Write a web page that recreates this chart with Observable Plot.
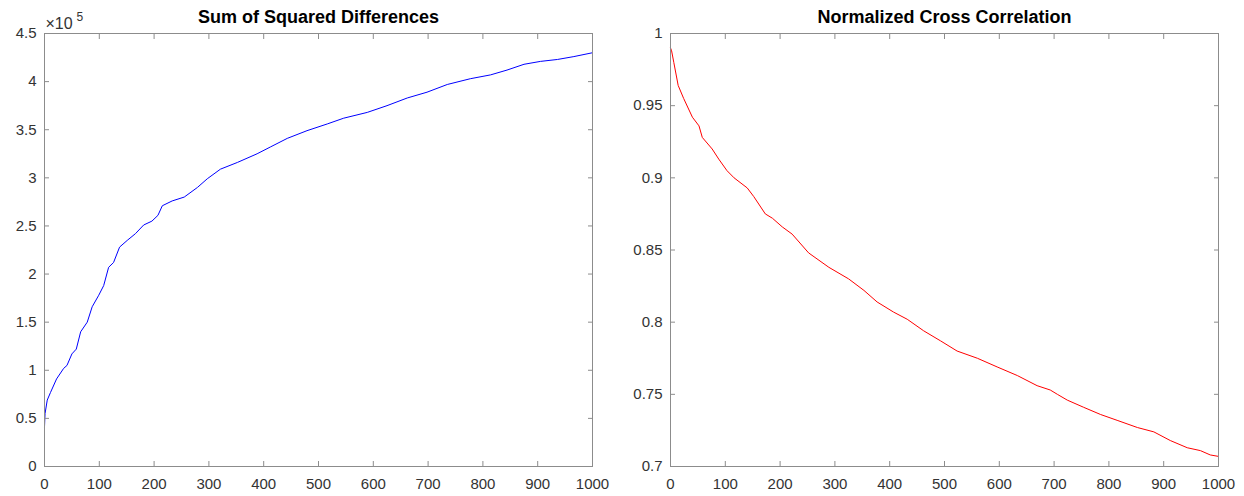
<!DOCTYPE html>
<html><head><meta charset="utf-8">
<script src="https://cdn.jsdelivr.net/npm/d3@7"></script>
<script src="https://cdn.jsdelivr.net/npm/@observablehq/plot@0.6"></script>
<style>body{margin:0;background:#fff} #wrap{display:flex;width:1244px;height:496px}</style>
</head><body><div id="wrap"></div>
<script>
const xTicks = [0,100,200,300,400,500,600,700,800,900,1000];
const sqdTicks = [0,50000,100000,150000,200000,250000,300000,350000,400000,450000];
const nccTicks = [0.7,0.75,0.8,0.85,0.9,0.95,1];

const sqdX = [0,1,5,11,22,35,41,50,58,66,78,87,99,108,117,126,137,151,166,181,196,207,215,233,255,279,297,321,352,388,412,443,479,516,546,589,625,662,698,735,777,814,844,875,905,936,966,1000];
const sqdY = [41000,55000,69000,77000,91000,102000,105000,117000,122000,140000,150000,166000,178000,188000,207000,212000,228000,235000,242000,251000,255000,261000,271000,276000,280000,290000,299000,309000,316000,325000,332000,341000,349000,356000,362000,368000,375000,383000,389000,397000,403000,407000,412000,418000,421000,423000,426000,430000];

const nccX = [0,2,6,14,24,40,52,58,76,88,103,116,140,152,173,186,204,222,252,289,325,353,377,407,432,462,493,523,560,596,633,669,693,706,724,754,785,815,852,882,912,943,967,985,1000];
const nccY = [0.990,0.988,0.980,0.964,0.955,0.942,0.936,0.928,0.920,0.913,0.905,0.900,0.893,0.887,0.875,0.872,0.866,0.861,0.848,0.838,0.830,0.822,0.814,0.807,0.802,0.794,0.787,0.780,0.775,0.769,0.763,0.756,0.753,0.750,0.746,0.741,0.736,0.732,0.727,0.724,0.718,0.713,0.711,0.708,0.707];

const axisColor = "#8c8c8c";
const textColor = "#333333";

function panel({title, xs, ys, color, yDomain, yTicks, yFmt, marginLeft, marginRight, extra = []}) {
  const data = xs.map((x, i) => ({x, y: ys[i]}));
  const blank = () => "";
  return Plot.plot({
    width: 622, height: 496,
    marginTop: 33, marginBottom: 30, marginLeft, marginRight,
    style: {fontFamily: "'Liberation Sans', Arial, sans-serif", fontSize: "15px", background: "#fff", color: textColor},
    x: {domain: [0, 1000]},
    y: {domain: yDomain},
    marks: [
      Plot.line(data, {x: "x", y: "y", stroke: color, strokeWidth: 1}),
      Plot.frame({stroke: axisColor}),
      Plot.axisX(xTicks, {anchor: "bottom", tickSize: 0, tickPadding: 12, tickFormat: d => String(d), label: null, fill: textColor, fontSize: 15}),
      Plot.axisX(xTicks, {anchor: "bottom", tickSize: -5, tickFormat: blank, label: null, stroke: axisColor}),
      Plot.axisX(xTicks, {anchor: "top", tickSize: -5, tickFormat: blank, label: null, stroke: axisColor}),
      Plot.axisY(yTicks, {anchor: "left", tickSize: 0, tickPadding: 8, tickFormat: yFmt, label: null, fill: textColor, fontSize: 15}),
      Plot.axisY(yTicks, {anchor: "left", tickSize: -5, tickFormat: blank, label: null, stroke: axisColor}),
      Plot.axisY(yTicks, {anchor: "right", tickSize: -5, tickFormat: blank, label: null, stroke: axisColor}),
      Plot.text([title], {frameAnchor: "top", lineAnchor: "middle", dy: -16, fontWeight: "bold", fontSize: 18, fill: "#000"}),
      ...extra
    ]
  });
}

const left = panel({
  title: "Sum of Squared Differences",
  xs: sqdX, ys: sqdY, color: "#0000ff",
  yDomain: [0, 450000], yTicks: sqdTicks, yFmt: d => String(d / 100000),
  marginLeft: 44, marginRight: 30,
  extra: [
    Plot.text(["×10"], {frameAnchor: "top-left", lineAnchor: "middle", textAnchor: "start", dx: 1, dy: -10, fontSize: 16, fill: textColor}),
    Plot.text(["5"], {frameAnchor: "top-left", lineAnchor: "middle", textAnchor: "start", dx: 32, dy: -16, fontSize: 12, fill: textColor})
  ]
});
const right = panel({
  title: "Normalized Cross Correlation",
  xs: nccX, ys: nccY, color: "#ff0000",
  yDomain: [0.7, 1], yTicks: nccTicks, yFmt: d => String(+d.toFixed(2)),
  marginLeft: 48, marginRight: 26
});
document.getElementById("wrap").append(left, right);
</script>
</body></html>
